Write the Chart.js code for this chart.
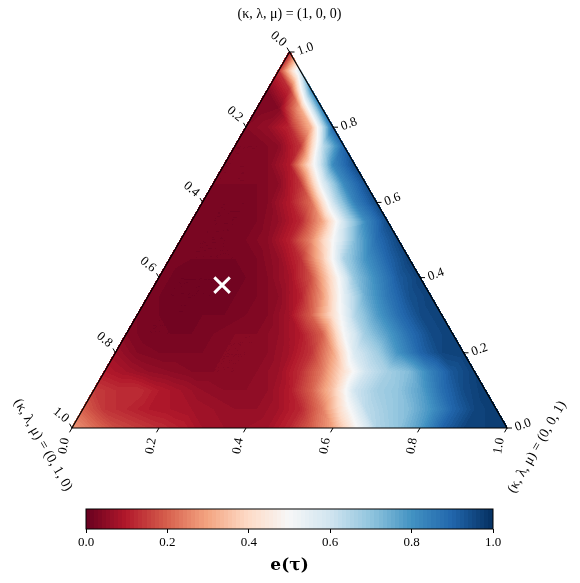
<!DOCTYPE html>
<html>
<head>
<meta charset="utf-8">
<script src="https://cdn.jsdelivr.net/npm/chart.js@4.4.1/dist/chart.umd.min.js"></script>
<style>
  html, body { margin: 0; padding: 0; background: #fff; }
  #wrap { position: relative; width: 580px; height: 583px; }
  #ternary { position: absolute; left: 0; top: 0; }
  #colorbar { position: absolute; left: 0; top: 495px; }
</style>
</head>
<body>
<div id="wrap">
  <canvas id="ternary" width="580" height="495"></canvas>
  <canvas id="colorbar" width="580" height="88"></canvas>
</div>
<script>
// grid of e(tau): row i is kappa = i/20,
// entry j is mu = j/20 (lambda = 1 - kappa - mu)
const gridSteps = 20;
const kappaLevels = [0, 0.05, 0.1, 0.15, 0.2, 0.25, 0.3, 0.35, 0.4, 0.45, 0.5,
                     0.55, 0.6, 0.65, 0.7, 0.75, 0.8, 0.85, 0.9, 0.95, 1.0];
const eRows = [
  [0.28, 0.22, 0.17, 0.15, 0.13, 0.11, 0.08, 0.07, 0.07, 0.08, 0.12, 0.2, 0.3, 0.48, 0.65, 0.7, 0.78, 0.9, 0.96, 0.97, 0.98],
  [0.2, 0.14, 0.12, 0.1, 0.09, 0.08, 0.07, 0.06, 0.06, 0.08, 0.12, 0.24, 0.45, 0.63, 0.68, 0.72, 0.8, 0.9, 0.96, 0.98],
  [0.15, 0.13, 0.13, 0.1, 0.08, 0.06, 0.05, 0.05, 0.06, 0.1, 0.2, 0.36, 0.6, 0.67, 0.7, 0.77, 0.88, 0.95, 0.98],
  [0.1, 0.08, 0.06, 0.05, 0.04, 0.04, 0.04, 0.05, 0.07, 0.13, 0.24, 0.42, 0.6, 0.67, 0.72, 0.84, 0.93, 0.97],
  [0.07, 0.04, 0.03, 0.03, 0.03, 0.04, 0.04, 0.05, 0.08, 0.14, 0.3, 0.58, 0.67, 0.8, 0.9, 0.96, 0.97],
  [0.04, 0.02, 0.02, 0.02, 0.03, 0.04, 0.04, 0.06, 0.1, 0.2, 0.5, 0.68, 0.78, 0.88, 0.95, 0.97],
  [0.03, 0.02, 0.01, 0.02, 0.02, 0.03, 0.04, 0.08, 0.2, 0.42, 0.65, 0.78, 0.88, 0.95, 0.97],
  [0.03, 0.01, 0.01, 0.01, 0.02, 0.03, 0.05, 0.11, 0.28, 0.55, 0.75, 0.86, 0.94, 0.97],
  [0.03, 0.01, 0.01, 0.01, 0.02, 0.04, 0.08, 0.18, 0.43, 0.7, 0.82, 0.92, 0.97],
  [0.03, 0.02, 0.02, 0.02, 0.03, 0.06, 0.13, 0.36, 0.66, 0.8, 0.9, 0.97],
  [0.03, 0.02, 0.02, 0.03, 0.05, 0.11, 0.26, 0.5, 0.72, 0.88, 0.96],
  [0.03, 0.02, 0.02, 0.03, 0.06, 0.12, 0.3, 0.6, 0.82, 0.95],
  [0.03, 0.02, 0.02, 0.04, 0.1, 0.22, 0.6, 0.84, 0.95],
  [0.03, 0.03, 0.03, 0.05, 0.14, 0.55, 0.82, 0.94],
  [0.03, 0.03, 0.04, 0.1, 0.45, 0.82, 0.95],
  [0.03, 0.03, 0.05, 0.14, 0.62, 0.9],
  [0.04, 0.06, 0.12, 0.33, 0.9],
  [0.03, 0.04, 0.3, 0.85],
  [0.04, 0.13, 0.82],
  [0.13, 0.6],
  [0.1]
];

// marked point (kappa, mu)
const markerKappa = 0.38;
const markerMu = 0.155;

const tickValues = [0, 0.2, 0.4, 0.6, 0.8, 1.0];
const tickLabels = ['0.0', '0.2', '0.4', '0.6', '0.8', '1.0'];
const topLabel = '(κ, λ, μ) = (1, 0, 0)';
const leftLabel = '(κ, λ, μ) = (0, 1, 0)';
const rightLabel = '(κ, λ, μ) = (0, 0, 1)';
const colorbarLabel = 'e(τ)';

// matplotlib RdBu
const rdBu = [
  [103, 0, 31], [178, 24, 43], [214, 96, 77], [244, 165, 130], [253, 219, 199],
  [247, 247, 247], [209, 229, 240], [146, 197, 222], [67, 147, 195], [33, 102, 172], [5, 48, 97]
];
const levelCount = 100;
const H = Math.sqrt(3) / 2;

Chart.defaults.font.family = 'Liberation Serif';
Chart.defaults.color = '#000';

function cmap(v) {
    v = Math.max(0, Math.min(1, v));
    const t = v * (rdBu.length - 1);
    const k = Math.min(Math.floor(t), rdBu.length - 2);
    const f = t - k;
    const a = rdBu[k], b = rdBu[k + 1];
    return [a[0] + (b[0] - a[0]) * f, a[1] + (b[1] - a[1]) * f, a[2] + (b[2] - a[2]) * f];
}

function quantize(v) {
    const k = Math.max(0, Math.min(levelCount - 1, Math.floor(v * levelCount)));
    return (k + 0.5) / levelCount;
}

function gridVal(i, j) {
    const row = eRows[Math.min(i, eRows.length - 1)];
    return row[Math.max(0, Math.min(j, row.length - 1))];
}

// linear interpolation inside the triangles of the grid
function sampleE(kappa, mu) {
    const a = kappa * gridSteps, b = mu * gridSteps;
    const i = Math.max(0, Math.min(Math.floor(a), gridSteps - 1));
    const j = Math.max(0, Math.min(Math.floor(b), gridSteps - 1 - i));
    const fa = a - i, fb = b - j;
    if (fa + fb <= 1) {
        return gridVal(i, j) * (1 - fa - fb) + gridVal(i + 1, j) * fa + gridVal(i, j + 1) * fb;
    }
    return gridVal(i + 1, j + 1) * (fa + fb - 1) + gridVal(i + 1, j) * (1 - fb) + gridVal(i, j + 1) * (1 - fa);
}

function toXY(kappa, mu) {
    return { x: mu + kappa / 2, y: kappa * H };
}

const ternaryPlugin = {
    id: 'ternary',
    beforeDatasetsDraw(chart) {
        const { ctx, chartArea: area } = chart;
        const xs = chart.scales.x, ys = chart.scales.y;
        const px = (k, m) => {
            const p = toXY(k, m);
            return [xs.getPixelForValue(p.x), ys.getPixelForValue(p.y)];
        };

        // heat map
        const w = Math.round(area.right - area.left), h = Math.round(area.bottom - area.top);
        const off = document.createElement('canvas');
        off.width = w; off.height = h;
        const octx = off.getContext('2d');
        const img = octx.createImageData(w, h);
        for (let yy = 0; yy < h; yy++) {
            const kappa = ys.getValueForPixel(area.top + yy + 0.5) / H;
            for (let xx = 0; xx < w; xx++) {
                const mu = xs.getValueForPixel(area.left + xx + 0.5) - kappa / 2;
                const lam = 1 - kappa - mu;
                if (kappa < -0.003 || mu < -0.003 || lam < -0.003) continue;
                const c = cmap(quantize(sampleE(Math.max(0, kappa), Math.max(0, mu))));
                const o = (yy * w + xx) * 4;
                img.data[o] = c[0]; img.data[o + 1] = c[1]; img.data[o + 2] = c[2]; img.data[o + 3] = 255;
            }
        }
        octx.putImageData(img, 0, 0);
        ctx.drawImage(off, area.left, area.top);

        // outline
        const top = px(1, 0), left = px(0, 0), right = px(0, 1);
        ctx.save();
        ctx.strokeStyle = '#000';
        ctx.lineWidth = 1.2;
        ctx.beginPath();
        ctx.moveTo(top[0], top[1]);
        ctx.lineTo(left[0], left[1]);
        ctx.lineTo(right[0], right[1]);
        ctx.closePath();
        ctx.stroke();

        // ticks and tick labels
        ctx.font = '13px "Liberation Serif"';
        ctx.textAlign = 'center';
        ctx.textBaseline = 'middle';
        ctx.fillStyle = '#000';
        ctx.lineWidth = 1;
        const axes = [
            { at: t => px(0, t), dir: [-0.5, 0.866], off: [-8, 18], rot: -80 },    // mu, bottom
            { at: t => px(t, 1 - t), dir: [1, 0], off: [16, -3], rot: -20 },      // kappa, right
            { at: t => px(1 - t, 0), dir: [-0.5, -0.866], off: [-11, -13], rot: 40 } // lambda, left
        ];
        axes.forEach(ax => {
            tickValues.forEach((t, i) => {
                const p = ax.at(t);
                ctx.beginPath();
                ctx.moveTo(p[0], p[1]);
                ctx.lineTo(p[0] + ax.dir[0] * 5, p[1] + ax.dir[1] * 5);
                ctx.stroke();
                ctx.save();
                ctx.translate(p[0] + ax.off[0], p[1] + ax.off[1]);
                ctx.rotate(ax.rot * Math.PI / 180);
                ctx.fillText(tickLabels[i], 0, 0);
                ctx.restore();
            });
        });

        // corner labels
        ctx.font = '14px "Liberation Serif"';
        ctx.fillText(topLabel, top[0], top[1] - 38);
        ctx.save();
        ctx.translate(left[0] - 29, left[1] + 17);
        ctx.rotate(60 * Math.PI / 180);
        ctx.fillText(leftLabel, 0, 0);
        ctx.restore();
        ctx.save();
        ctx.translate(right[0] + 30, right[1] + 19);
        ctx.rotate(-60 * Math.PI / 180);
        ctx.fillText(rightLabel, 0, 0);
        ctx.restore();
        ctx.restore();
    }
};

new Chart(document.getElementById('ternary'), {
    type: 'scatter',
    data: {
        datasets: [{
            data: [toXY(markerKappa, markerMu)],
            pointStyle: 'crossRot',
            pointRadius: 11,
            pointBorderWidth: 3,
            borderColor: '#fff',
            backgroundColor: '#fff'
        }]
    },
    options: {
        responsive: false,
        animation: false,
        layout: { padding: { left: 72, right: 73, top: 52, bottom: 67 } },
        scales: {
            x: { type: 'linear', display: false, min: 0, max: 1 },
            y: { type: 'linear', display: false, min: 0, max: H }
        },
        plugins: { legend: { display: false }, tooltip: { enabled: false } }
    },
    plugins: [ternaryPlugin]
});

// colorbar
const colorbarPlugin = {
    id: 'colorbarFill',
    beforeDatasetsDraw(chart) {
        const { ctx, chartArea: area } = chart;
        const xs = chart.scales.x;
        for (let k = 0; k < levelCount; k++) {
            const x0 = Math.floor(xs.getPixelForValue(k / levelCount));
            const x1 = Math.ceil(xs.getPixelForValue((k + 1) / levelCount));
            const c = cmap((k + 0.5) / levelCount);
            ctx.fillStyle = `rgb(${c[0]}, ${c[1]}, ${c[2]})`;
            ctx.fillRect(x0, area.top, x1 - x0, area.bottom - area.top);
        }
        ctx.strokeStyle = '#000';
        ctx.lineWidth = 1;
        ctx.strokeRect(area.left, area.top, area.right - area.left, area.bottom - area.top);
    }
};

new Chart(document.getElementById('colorbar'), {
    type: 'scatter',
    data: { datasets: [] },
    options: {
        responsive: false,
        animation: false,
        layout: { padding: { left: 86, right: 87, top: 14, bottom: 0 } },
        scales: {
            x: {
                type: 'linear', min: 0, max: 1,
                afterBuildTicks: s => { s.ticks = tickValues.map(v => ({ value: v })); },
                afterFit: s => { s.height = 54; },
                ticks: {
                    font: { size: 13, family: 'Liberation Serif' },
                    padding: 2,
                    maxRotation: 0,
                    callback: (v, i) => tickLabels[i]
                },
                grid: { drawOnChartArea: false, drawTicks: true, tickLength: 4, color: '#000' },
                border: { display: false },
                title: {
                    display: true,
                    text: colorbarLabel,
                    font: { size: 17, weight: 'bold', family: 'DejaVu Serif' },
                    padding: { top: 0, bottom: 7 }
                }
            },
            y: { display: false, min: 0, max: 1 }
        },
        plugins: { legend: { display: false }, tooltip: { enabled: false } }
    },
    plugins: [colorbarPlugin]
});
</script>
</body>
</html>
